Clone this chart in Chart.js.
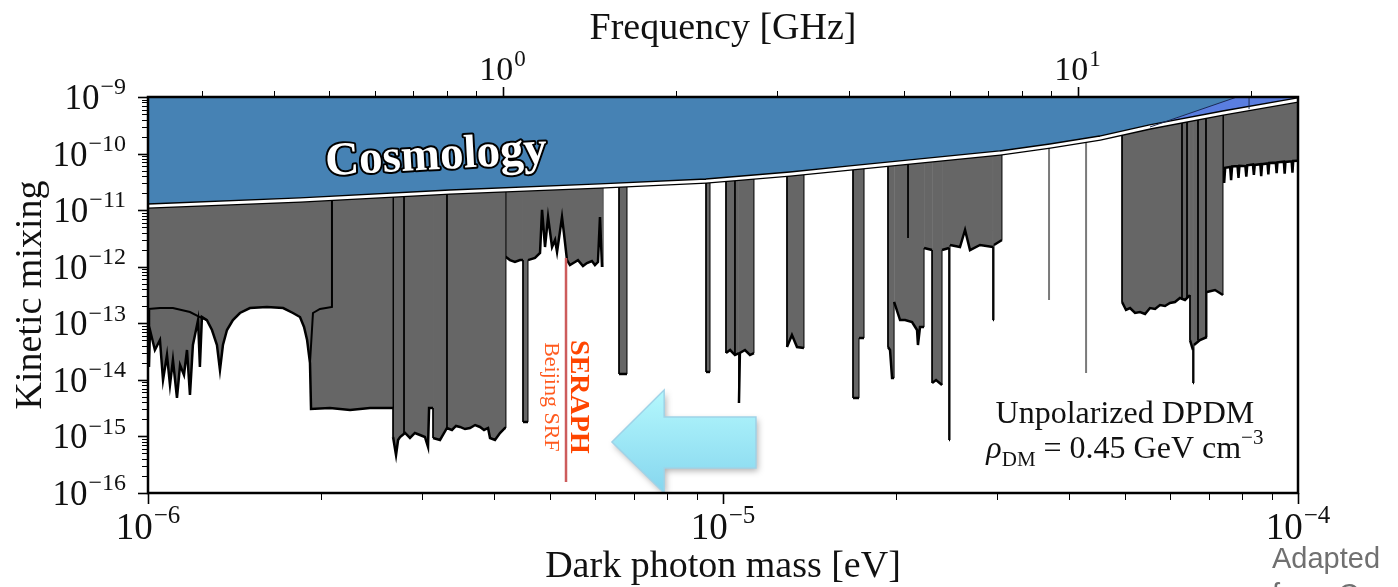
<!DOCTYPE html>
<html>
<head>
<meta charset="utf-8">
<script src="https://cdn.jsdelivr.net/npm/chart.js@4.4.1/dist/chart.umd.min.js"></script>
<style>
  html, body { margin: 0; padding: 0; background: #fff; }
  #c { display: block; }
</style>
</head>
<body>
<canvas id="c" width="1398" height="587"></canvas>
<script>
// top of the plot (1e-9) is used as the "open" edge of every exclusion band
const TOP = 1e-9;
const H_EV_PER_GHZ = 4.135667e-6;

// cosmology bound (lower edge of the blue region)
const cosmoMass  = [1.0e-6, 1.84e-6, 3.35e-6, 6.11e-6, 9.342e-6, 1.308e-5, 1.663e-5, 2.482e-5, 3.032e-5, 3.705e-5, 4.525e-5, 5.528e-5, 7.405e-5, 1.0e-4];
const cosmoKappa = [1.18e-11, 1.51e-11, 2.09e-11, 2.67e-11, 3.27e-11, 4.35e-11, 5.56e-11, 8.35e-11, 1.023e-10, 1.36e-10, 1.88e-10, 2.95e-10, 5.21e-10, 8.85e-10];

// steep (purple) bound near the top right corner
const stellarMass  = [5.528e-5, 7.83e-5];
const stellarKappa = [2.95e-10, 1e-9];
const stellarEdge  = [8.22e-5, 6.1e-10];

// haloscope exclusion bands: [mass eV, kappa]
const bandA = [[1.000e-6,TOP],[1.000e-6,1.72e-13],[1.004e-6,1.69e-14],[1.008e-6,7.61e-14],[1.028e-6,3.37e-14],[1.049e-6,5.06e-14],
  [1.062e-6,9.94e-15],[1.079e-6,2.75e-14],[1.092e-6,8.11e-15],[1.105e-6,2.24e-14],[1.123e-6,4.78e-15],[1.137e-6,1.83e-14],
  [1.155e-6,1.22e-14],[1.169e-6,3.37e-14],[1.183e-6,5.40e-15],[1.197e-6,4.13e-14],[1.207e-6,6.21e-14],[1.222e-6,1.14e-13],
  [1.231e-6,1.69e-14],[1.241e-6,1.29e-13],[1.266e-6,1.14e-13],[1.292e-6,7.61e-14],[1.318e-6,4.13e-14],[1.334e-6,1.49e-14],
  [1.350e-6,4.13e-14],[1.372e-6,7.61e-14],[1.405e-6,1.14e-13],[1.445e-6,1.52e-13],[1.504e-6,1.86e-13],[1.610e-6,1.94e-13],
  [1.718e-6,1.86e-13],[1.787e-6,1.52e-13],[1.838e-6,1.29e-13],[1.868e-6,8.60e-14],[1.891e-6,5.06e-14],[1.913e-6,1.99e-14],
  [1.921e-6,3.05e-15],[2.072e-6,3.18e-15],[2.246e-6,2.93e-15],[2.433e-6,3.18e-15],[2.668e-6,3.18e-15],[2.668e-6,TOP]];
const bandB = [[2.668e-6,TOP],[2.668e-6,9.77e-16],[2.700e-6,4.69e-16],[2.722e-6,8.65e-16],[2.744e-6,9.77e-16],[2.799e-6,1.15e-15],
  [2.855e-6,9.38e-16],[2.912e-6,1.15e-15],[2.972e-6,1.06e-15],[3.031e-6,9.77e-16],[3.069e-6,6.50e-16],[3.082e-6,3.18e-15],
  [3.131e-6,3.18e-15],[3.131e-6,9.38e-16],[3.220e-6,8.65e-16],[3.311e-6,1.41e-15],[3.378e-6,1.30e-15],[3.433e-6,1.53e-15],
  [3.488e-6,1.47e-15],[3.559e-6,1.35e-15],[3.631e-6,1.41e-15],[3.706e-6,1.59e-15],[3.779e-6,1.47e-15],[3.841e-6,1.30e-15],
  [3.903e-6,1.41e-15],[3.934e-6,9.38e-16],[4.013e-6,8.65e-16],[4.094e-6,1.15e-15],[4.177e-6,1.41e-15],
  [4.193e-6,1.41e-15],[4.193e-6,TOP]];
const bandC = [[4.143e-6,TOP],[4.143e-6,1.48e-12],[4.193e-6,1.48e-12],[4.261e-6,1.31e-12],[4.347e-6,1.21e-12],[4.436e-6,1.31e-12],
  [4.489e-6,1.31e-12],[4.489e-6,1.80e-15],[4.580e-6,1.80e-15],[4.580e-6,1.31e-12],[4.710e-6,1.43e-12],[4.806e-6,1.75e-12],
  [4.845e-6,1.01e-11],[4.903e-6,2.23e-12],[4.963e-6,7.56e-12],[5.043e-6,2.23e-12],[5.104e-6,2.97e-12],[5.145e-6,1.82e-12],
  [5.248e-6,7.56e-12],[5.289e-6,3.94e-12],[5.354e-6,1.31e-12],[5.418e-6,1.07e-12],[5.528e-6,1.21e-12],[5.595e-6,1.31e-12],
  [5.708e-6,1.03e-12],[5.800e-6,1.16e-12],[5.916e-6,1.26e-12],[5.988e-6,1.07e-12],[6.061e-6,1.21e-12],
  [6.110e-6,7.56e-12],[6.160e-6,9.88e-13],[6.184e-6,9.88e-13],[6.184e-6,TOP]];
const barD = [[6.594e-6,TOP],[6.594e-6,1.27e-14],[6.808e-6,1.27e-14],[6.808e-6,TOP]];
const barE = [[9.342e-6,TOP],[9.342e-6,1.38e-14],[9.493e-6,1.38e-14],[9.493e-6,TOP]];
const bandF = [[1.012e-5,TOP],[1.012e-5,2.98e-14],[1.029e-5,3.37e-14],[1.049e-5,2.75e-14],[1.066e-5,2.98e-14],[1.066e-5,3.90e-15],
  [1.070e-5,2.98e-14],[1.092e-5,3.37e-14],[1.114e-5,2.75e-14],[1.132e-5,2.98e-14],[1.132e-5,TOP]];
const barG = [[1.292e-5,TOP],[1.292e-5,3.81e-14],[1.318e-5,6.21e-14],[1.345e-5,3.81e-14],[1.383e-5,3.66e-14],[1.383e-5,TOP]];
const barH = [[1.683e-5,TOP],[1.683e-5,4.78e-15],[1.724e-5,4.78e-15],[1.724e-5,5.49e-14],[1.759e-5,5.49e-14],[1.759e-5,TOP]];
const bandI = [[1.936e-5,TOP],[1.936e-5,3.81e-14],[1.952e-5,3.37e-14],[1.968e-5,1.08e-14],[1.984e-5,1.08e-14],[1.984e-5,2.38e-13],
  [2.032e-5,1.14e-13],[2.073e-5,1.14e-13],[2.132e-5,1.05e-13],[2.175e-5,7.61e-14],[2.183e-5,4.13e-14],[2.201e-5,8.60e-14],
  [2.237e-5,8.60e-14],[2.237e-5,2.14e-12],[2.310e-5,1.97e-12],[2.310e-5,8.79e-15],[2.347e-5,9.94e-15],[2.404e-5,8.11e-15],
  [2.404e-5,1.97e-12],[2.472e-5,2.14e-12],[2.472e-5,8.65e-16],[2.482e-5,8.65e-16],[2.482e-5,2.42e-12],[2.583e-5,2.23e-12],
  [2.636e-5,4.46e-12],[2.689e-5,1.97e-12],[2.799e-5,2.42e-12],[2.948e-5,2.23e-12],[2.948e-5,1.14e-13],[2.960e-5,1.14e-13],
  [2.960e-5,2.42e-12],[3.056e-5,2.97e-12],[3.056e-5,TOP]];
const bandJ = [[4.943e-5,TOP],[4.943e-5,2.38e-13],[5.022e-5,1.72e-13],[5.104e-5,1.86e-13],[5.207e-5,1.52e-13],[5.312e-5,1.58e-13],
  [5.420e-5,1.46e-13],[5.528e-5,1.86e-13],[5.642e-5,1.79e-13],[5.754e-5,2.10e-13],[5.871e-5,2.02e-13],[5.989e-5,2.28e-13],
  [6.110e-5,2.38e-13],[6.233e-5,2.80e-13],[6.360e-5,2.58e-13],[6.488e-5,3.16e-13],[6.488e-5,5.06e-14],[6.567e-5,3.37e-14],
  [6.567e-5,8.79e-15],[6.593e-5,8.79e-15],[6.593e-5,4.13e-14],[6.754e-5,5.06e-14],[6.945e-5,5.72e-14],[6.945e-5,3.57e-13],
  [7.172e-5,3.88e-13],[7.405e-5,3.16e-13],[7.405e-5,TOP]];
const bandK = [[7.405e-5,TOP],[7.405e-5,5.12e-11],[7.44e-5,3.02e-11],[7.47e-5,5.6e-11],[7.62e-5,5.8e-11],[7.65e-5,3.4e-11],
  [7.68e-5,5.9e-11],[7.85e-5,6.0e-11],[7.88e-5,3.7e-11],[7.91e-5,6.1e-11],[8.10e-5,6.0e-11],[8.13e-5,3.9e-11],[8.16e-5,6.2e-11],
  [8.35e-5,6.4e-11],[8.38e-5,4.2e-11],[8.41e-5,6.3e-11],[8.60e-5,6.5e-11],[8.63e-5,4.0e-11],[8.66e-5,6.5e-11],[8.85e-5,6.7e-11],
  [8.88e-5,4.3e-11],[8.91e-5,6.8e-11],[9.15e-5,6.9e-11],[9.18e-5,4.5e-11],[9.21e-5,7.0e-11],[9.45e-5,7.2e-11],[9.48e-5,4.4e-11],
  [9.51e-5,7.1e-11],[9.75e-5,7.3e-11],[9.78e-5,4.6e-11],[9.81e-5,7.4e-11],[1.0e-4,7.5e-11],[1.0e-4,TOP]];
const bands = [bandA, bandB, bandC, barD, barE, bandF, barG, barH, bandI, bandJ, bandK];

// smooth outline of the low-mass resonant search drawn over the noisy band
const outlineLow  = [[1.000e-6,1.79e-13],[1.049e-6,1.86e-13],[1.105e-6,1.86e-13],[1.183e-6,1.58e-13],[1.231e-6,1.29e-13],[1.266e-6,1.14e-13]];
const outlineBump = [[1.913e-6,1.99e-14],[1.936e-6,1.52e-13],[1.991e-6,1.79e-13],[2.039e-6,1.86e-13],[2.089e-6,1.94e-13],[2.089e-6,TOP]];

// inner edges of overlapping searches
const edgeMass   = [2.788e-6, 3.311e-6, 1.049e-5, 2.098e-5, 6.284e-5, 6.412e-5, 6.70e-5, 6.918e-5];
const edgeBottom = [1.1e-15, 1.41e-15, 2.75e-14, 3.22e-12, 2.8e-13, 2.9e-13, 5.0e-14, 5.7e-14];

// narrow single-frequency limits
const thinMass   = [3.69e-5, 4.28e-5];
const thinBottom = [2.58e-13, 1.32e-14];

// SERAPH (Beijing SRF) line
const seraphMass  = [5.333e-6, 5.333e-6];
const seraphKappa = [1.43e-12, 1.56e-16];

// projection arrow (mass, kappa)
const arrowMass  = [6.41e-6, 7.90e-6, 1.141e-5];
const arrowKappa = [7.97e-16, 6.62e-15, 2.20e-15, 2.77e-16, 1e-16];

// axes
const yDecades = [-16, -15, -14, -13, -12, -11, -10, -9];
const xDecades = [-6, -5, -4];
const freqTicks = [0.3, 0.4, 0.5, 0.6, 0.7, 0.8, 0.9, 1, 2, 3, 4, 5, 6, 7, 8, 9, 10, 20];
const freqLabels = [[1, '0'], [10, '1']];

const SERIF = '"Liberation Serif", "DejaVu Serif", serif';
const GREY = '#666666';

const pts = (arr) => arr.map(([x, y]) => ({ x, y }));
const zip = (xs, ys) => xs.map((x, i) => ({ x, y: ys[i] }));

const datasets = [];
bands.forEach(b => datasets.push({
  data: pts(b), fill: 'end', backgroundColor: GREY, borderColor: '#000', borderWidth: 2.5,
  segment: { borderWidth: c => (c.p0.parsed.x === c.p1.parsed.x ? 1 : 2.5) }, order: 10
}));
datasets.push({ data: pts(outlineLow), borderColor: '#000', borderWidth: 2, fill: false, order: 9 });
datasets.push({ data: pts(outlineBump), borderColor: '#000', borderWidth: 2, fill: false, order: 9 });
const edgeData = [];
edgeMass.forEach((m, i) => { edgeData.push({ x: m, y: TOP }, { x: m, y: edgeBottom[i] }, { x: m, y: null }); });
datasets.push({ data: edgeData, borderColor: '#000', borderWidth: 1, fill: false, order: 9 });
const thinData = [];
thinMass.forEach((m, i) => { thinData.push({ x: m, y: TOP }, { x: m, y: thinBottom[i] }, { x: m, y: null }); });
datasets.push({ data: thinData, borderColor: '#7a7a7a', borderWidth: 2, fill: false, order: 9 });

const cosmo = zip(cosmoMass, cosmoKappa);
datasets.push({ data: cosmo, borderWidth: 0, fill: 'end', backgroundColor: '#5a7ee0', order: 8 });
const blueEdge = cosmo.filter(p => p.x <= stellarMass[0]).concat(zip(stellarMass, stellarKappa).slice(1), [{ x: 1e-4, y: TOP }]);
datasets.push({ data: blueEdge, borderWidth: 0, fill: 'end', backgroundColor: '#4682b4', order: 7 });
datasets.push({ data: cosmo, borderColor: '#000', borderWidth: 5.5, fill: false, order: 6 });
datasets.push({ data: cosmo, borderColor: '#fff', borderWidth: 2.8, fill: false, order: 5 });
datasets.push({ data: zip(stellarMass, stellarKappa), borderColor: '#1a2a55', borderWidth: 1, fill: false, order: 4 });
datasets.push({ data: [{ x: stellarEdge[0], y: stellarEdge[1] }, { x: stellarEdge[0], y: TOP }], borderColor: '#1a2a55', borderWidth: 1, fill: false, order: 4 });
datasets.push({ data: zip(seraphMass, seraphKappa), borderColor: '#cd5c5c', borderWidth: 2.5, fill: false, order: 1 });

function pow10(ctx, exp, px, py, size, align) {
  const sup = exp < 0 ? '\u2212' + (-exp) : String(exp);
  const es = Math.round(size * 0.68);
  ctx.font = size + 'px ' + SERIF;
  const wb = ctx.measureText('10').width;
  ctx.font = es + 'px ' + SERIF;
  const we = ctx.measureText(sup).width;
  const x0 = align === 'right' ? px - wb - we - 1 : px - (wb + we + 1) / 2;
  ctx.textAlign = 'left';
  ctx.textBaseline = 'alphabetic';
  ctx.font = size + 'px ' + SERIF;
  ctx.fillText('10', x0, py);
  ctx.font = es + 'px ' + SERIF;
  ctx.fillText(sup, x0 + wb + 1, py - size * 0.42);
}

const deco = {
  id: 'deco',
  afterDatasetsDraw(chart) {
    const { ctx, chartArea: a, scales: { x, y } } = chart;
    ctx.save();
    ctx.beginPath();
    ctx.rect(a.left, a.top, a.right - a.left, a.bottom - a.top);
    ctx.clip();

    // arrow
    const xt = x.getPixelForValue(arrowMass[0]), xh = x.getPixelForValue(arrowMass[1]), xe = x.getPixelForValue(arrowMass[2]);
    const yt = y.getPixelForValue(arrowKappa[0]), yht = y.getPixelForValue(arrowKappa[1]);
    const yst = y.getPixelForValue(arrowKappa[2]), ysb = y.getPixelForValue(arrowKappa[3]);
    const yhb = y.getPixelForValue(arrowKappa[4]);
    ctx.save();
    ctx.shadowColor = 'rgba(0,0,0,0.3)';
    ctx.shadowBlur = 6; ctx.shadowOffsetX = 2; ctx.shadowOffsetY = 3;
    const g = ctx.createLinearGradient(0, yht, 0, yhb);
    g.addColorStop(0, '#b4f8fd'); g.addColorStop(1, '#86d6ee');
    ctx.fillStyle = g;
    ctx.beginPath();
    ctx.moveTo(xt, yt); ctx.lineTo(xh, yht); ctx.lineTo(xh, yst); ctx.lineTo(xe, yst);
    ctx.lineTo(xe, ysb); ctx.lineTo(xh, ysb); ctx.lineTo(xh, yhb); ctx.closePath();
    ctx.fill();
    ctx.restore();
    ctx.strokeStyle = '#9fd3e8'; ctx.lineWidth = 1.5; ctx.stroke();

    // Cosmology label
    ctx.save();
    ctx.translate(x.getPixelForValue(3.17e-6), y.getPixelForValue(8.7e-11));
    ctx.rotate(-0.055);
    ctx.font = 'bold 47px ' + SERIF;
    ctx.textAlign = 'center'; ctx.textBaseline = 'middle';
    ctx.lineJoin = 'round'; ctx.lineWidth = 4; ctx.strokeStyle = '#000';
    ctx.strokeText('Cosmology', 0, 0);
    ctx.fillStyle = '#fff';
    ctx.fillText('Cosmology', 0, 0);
    ctx.restore();

    // SERAPH labels
    const sy = y.getPixelForValue(5.0e-15);
    ctx.save();
    ctx.translate(x.getPixelForValue(seraphMass[0]) + 12, sy);
    ctx.rotate(Math.PI / 2);
    ctx.textAlign = 'center'; ctx.textBaseline = 'middle';
    ctx.font = 'bold 28px ' + SERIF; ctx.fillStyle = '#ff4500';
    ctx.fillText('SERAPH', 0, 0);
    ctx.restore();
    ctx.save();
    ctx.translate(x.getPixelForValue(seraphMass[0]) - 15, sy);
    ctx.rotate(Math.PI / 2);
    ctx.textAlign = 'center'; ctx.textBaseline = 'middle';
    ctx.font = '22px ' + SERIF; ctx.fillStyle = '#ff5a1e';
    ctx.fillText('Beijing SRF', 0, 0);
    ctx.restore();

    // DPDM note
    ctx.fillStyle = '#111';
    ctx.textBaseline = 'alphabetic';
    ctx.textAlign = 'center';
    ctx.font = '32px ' + SERIF;
    const nx = x.getPixelForValue(5.0e-5);
    ctx.fillText('Unpolarized DPDM', nx, y.getPixelForValue(1.73e-15));
    const by = y.getPixelForValue(4.15e-16);
    const parts = [['\u03c1', 'italic 32px ', 0], ['DM', '21px ', 8], [' = 0.45 GeV cm', '32px ', 0], ['\u22123', '21px ', -14]];
    let tw = 0;
    parts.forEach(p => { ctx.font = p[1] + SERIF; tw += ctx.measureText(p[0]).width; });
    let cx = nx - tw / 2;
    ctx.textAlign = 'left';
    parts.forEach(p => { ctx.font = p[1] + SERIF; ctx.fillText(p[0], cx, by + p[2]); cx += ctx.measureText(p[0]).width; });
    ctx.restore();
  },
  afterDraw(chart) {
    const { ctx, chartArea: a, scales: { x, y, f } } = chart;
    ctx.save();
    ctx.strokeStyle = '#000';
    ctx.fillStyle = '#111';
    // frame
    ctx.lineWidth = 2.5;
    ctx.strokeRect(a.left, a.top, a.right - a.left, a.bottom - a.top);

    // y ticks
    yDecades.forEach(k => {
      for (let m = 1; m <= 9; m++) {
        if (k === -9 && m > 1) break;
        const py = Math.round(y.getPixelForValue(m * Math.pow(10, k))) + 0.5;
        ctx.lineWidth = m === 1 ? 1.6 : 1;
        ctx.beginPath(); ctx.moveTo(a.left, py); ctx.lineTo(a.left - (m === 1 ? 10 : 6), py); ctx.stroke();
      }
      pow10(ctx, k, a.left - 22, y.getPixelForValue(Math.pow(10, k)) + 12, 35, 'right');
    });
    // x ticks
    xDecades.forEach(k => {
      for (let m = 1; m <= 9; m++) {
        if (k === -4 && m > 1) break;
        const px = Math.round(x.getPixelForValue(m * Math.pow(10, k))) + 0.5;
        ctx.lineWidth = m === 1 ? 1.6 : 1;
        ctx.beginPath(); ctx.moveTo(px, a.bottom); ctx.lineTo(px, a.bottom + (m === 1 ? 11 : 7)); ctx.stroke();
      }
      pow10(ctx, k, x.getPixelForValue(Math.pow(10, k)), a.bottom + 46, 37, 'center');
    });
    // frequency ticks (top)
    freqTicks.forEach(v => {
      const major = v === 1 || v === 10;
      const px = Math.round(f.getPixelForValue(v)) + 0.5;
      ctx.lineWidth = major ? 1.6 : 1;
      ctx.beginPath(); ctx.moveTo(px, a.top); ctx.lineTo(px, a.top - (major ? 10 : 6)); ctx.stroke();
    });
    freqLabels.forEach(([v, e]) => pow10(ctx, Number(e), f.getPixelForValue(v), a.top - 17, 34, 'center'));

    // axis titles
    ctx.font = '38px ' + SERIF;
    ctx.textAlign = 'center'; ctx.textBaseline = 'alphabetic';
    ctx.fillText('Frequency [GHz]', (a.left + a.right) / 2, 39);
    ctx.fillText('Dark photon mass [eV]', (a.left + a.right) / 2, 577);
    ctx.save();
    ctx.translate(41, (a.top + a.bottom) / 2);
    ctx.rotate(-Math.PI / 2);
    ctx.fillText('Kinetic mixing', 0, 0);
    ctx.restore();

    // source note
    ctx.font = '29px "Liberation Sans", Arial, sans-serif';
    ctx.fillStyle = '#707070';
    ctx.textAlign = 'left';
    ctx.fillText('Adapted', 1272, 568);
    ctx.fillText('from Caputo et al.', 1272, 604);
    ctx.restore();
  }
};

new Chart(document.getElementById('c'), {
  type: 'line',
  data: { datasets },
  options: {
    responsive: false,
    animation: false,
    events: [],
    layout: { padding: { left: 148, right: 100, top: 97, bottom: 94 } },
    plugins: { legend: { display: false }, tooltip: { enabled: false } },
    elements: { point: { radius: 0 }, line: { tension: 0 } },
    scales: {
      x: { type: 'logarithmic', min: 1e-6, max: 1e-4, display: false },
      y: { type: 'logarithmic', min: 1e-16, max: 1e-9, display: false },
      f: { type: 'logarithmic', position: 'top', min: 1e-6 / H_EV_PER_GHZ, max: 1e-4 / H_EV_PER_GHZ, display: false }
    }
  },
  plugins: [deco]
});
</script>
</body>
</html>
